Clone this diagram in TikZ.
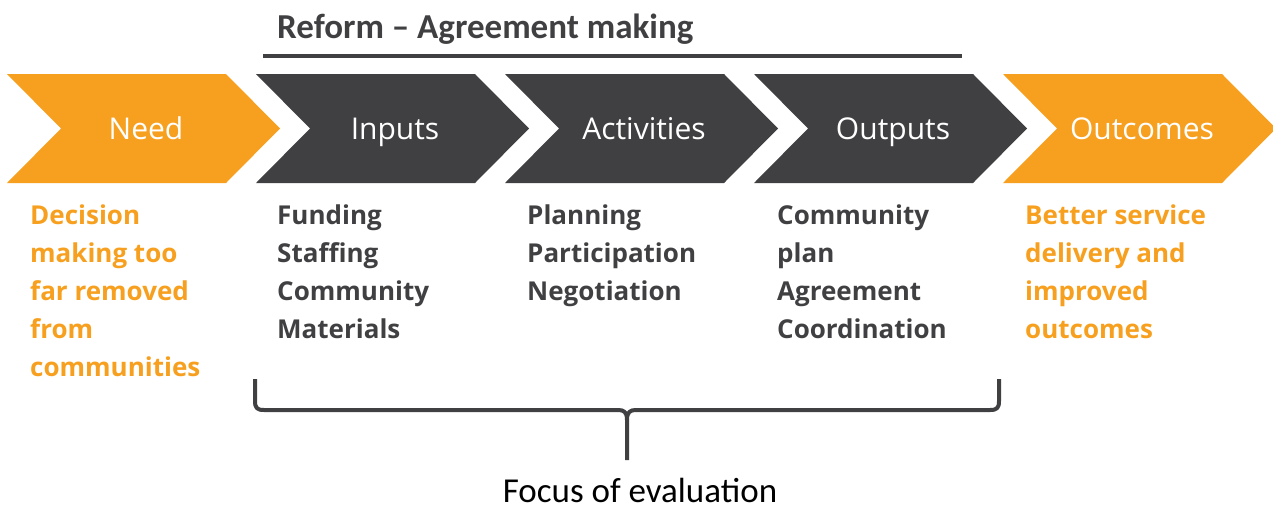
\documentclass[tikz,border=0pt]{standalone}
\usepackage{fontspec}
\setmainfont{Open Sans}
\newfontfamily\calfont{Carlito}
\definecolor{orng}{HTML}{F7A01F}
\definecolor{dgray}{HTML}{404042}
\begin{document}
\begin{tikzpicture}[x=1pt,y=-1pt,
  chevlabel/.style={text=white, font=\fontsize{30}{36}\selectfont, anchor=base, inner sep=0pt},
  bodytext/.style={font=\fontsize{26}{38}\selectfont\bfseries, anchor=north west, align=left, inner sep=0pt, text=#1},
]
\useasboundingbox (0,0) rectangle (1273,509);
% chevrons
\foreach \x/\c/\n in {7/orng/need, 256/dgray/inputs, 505/dgray/activities, 754/dgray/outputs, 1003/orng/outcomes}{
  \fill[\c] (\x,74) -- (\x+219,74) -- (\x+273,128.5) -- (\x+219,183) -- (\x,183) -- (\x+54,128.5) -- cycle;
  \coordinate (\n) at (\x+139,139);
}
\node[chevlabel] (lneed) at (need) {Need};
\node[chevlabel] (linputs) at (inputs) {Inputs};
\node[chevlabel] (lact) at (activities) {Activities};
\node[chevlabel] (lout) at (outputs) {Outputs};
\node[chevlabel] (loutc) at (outcomes) {Outcomes};
% title
\node[anchor=base west, inner sep=0pt, text=dgray, font=\calfont\fontsize{35}{40}\selectfont\bfseries] (title) at (277,38) {Reform – Agreement making};
\draw[dgray, line width=4.5pt] (263,56) -- (962,56);
% body texts
\node[bodytext=orng] (t1) at (30,205) {Decision\\making too\\far removed\\from\\communities};
\node[bodytext=dgray] (t2) at (277,205) {Funding\\Staffing\\Community\\Materials};
\node[bodytext=dgray] (t3) at (527,205) {Planning\\Participation\\Negotiation};
\node[bodytext=dgray] (t4) at (777,205) {Community\\plan\\Agreement\\Coordination};
\node[bodytext=orng] (t5) at (1025,205) {Better service\\delivery and\\improved\\outcomes};
% brace
\draw[dgray, line width=4pt, line join=round]
  (255,379) -- (255,401) .. controls (255,408) and (257,410) .. (264,410)
  -- (618,410) .. controls (624,410) and (627,412) .. (627,420) -- (627,460);
\draw[dgray, line width=4pt, line join=round]
  (999,379) -- (999,401) .. controls (999,408) and (997,410) .. (990,410)
  -- (636,410) .. controls (630,410) and (627,412) .. (627,420);
\node[anchor=base, inner sep=0pt, font=\calfont\fontsize{35}{40}\selectfont] (focus) at (640,502) {Focus of evaluation};
\end{tikzpicture}
\end{document}
